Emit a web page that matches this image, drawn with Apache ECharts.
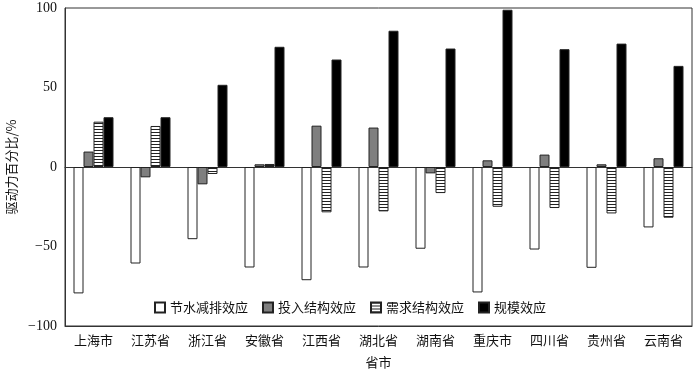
<!DOCTYPE html>
<html><head><meta charset="utf-8">
<script src="https://cdn.jsdelivr.net/npm/echarts@6/dist/echarts.min.js"></script>
<style>html,body{margin:0;padding:0;background:#fff}#c{width:700px;height:369px}</style>
</head><body><div id="c"></div>
<script>
var categories = ['上海市','江苏省','浙江省','安徽省','江西省','湖北省','湖南省','重庆市','四川省','贵州省','云南省'];
var seriesNames = ['节水减排效应','投入结构效应','需求结构效应','规模效应'];
var waterSaving = [-79.5, -60.7, -45.4, -63.2, -71.2, -63.2, -51.4, -78.9, -51.9, -63.4, -38.0];
var inputStruct = [9.7, -6.5, -10.9, 1.7, 26.0, 24.8, -4.0, 4.2, 7.8, 1.7, 5.5];
var demandStruct = [28.5, 25.8, -4.4, 1.9, -28.5, -27.9, -16.4, -25.0, -25.8, -29.2, -31.9];
var scale = [31.3, 31.3, 51.7, 75.6, 67.6, 85.7, 74.5, 98.9, 74.1, 77.6, 63.6];
var yTicks = [-100, -50, 0, 50, 100];

var pc = document.createElement('canvas');
pc.width = 4; pc.height = 3;
var ctx = pc.getContext('2d');
ctx.fillStyle = '#fff'; ctx.fillRect(0,0,4,3);
ctx.fillStyle = '#222'; ctx.fillRect(0,0,4,1);
var hatch = {image: pc, repeat: 'repeat'};

var font = '"Noto Sans CJK SC", sans-serif';
var border = {borderColor:'#222', borderWidth:1};
function mk(name, data, color){
  return {name:name, type:'bar', data:data, barWidth:10, barGap:'0%', xAxisIndex:0,
    itemStyle:Object.assign({color:color}, border)};
}
var chart = echarts.init(document.getElementById('c'));
chart.setOption({
  animation:false,
  textStyle:{fontFamily:font, color:'#111'},
  grid:{left:65, right:8, top:8, bottom:43, show:true, borderColor:'#333', borderWidth:1,
    containLabel:false, outerBoundsMode:'none'},
  legend:{top:296, left:'center', icon:'rect', itemWidth:10, itemHeight:10, itemGap:14,
    textStyle:{fontFamily:font, fontSize:13, color:'#111'},
    data:seriesNames},
  xAxis:[{type:'category', data:categories, position:'bottom',
      axisLine:{onZero:false, lineStyle:{color:'#333'}},
      axisTick:{inside:true, length:5, lineStyle:{color:'#333'}},
      axisLabel:{fontFamily:font, fontSize:13, color:'#111', margin:8},
      name:'省市', nameLocation:'middle', nameGap:30,
      nameTextStyle:{fontFamily:font, fontSize:13, color:'#111'}},
    {type:'category', data:categories, position:'bottom',
      axisLine:{onZero:true, lineStyle:{color:'#333'}},
      axisTick:{inside:true, length:5, lineStyle:{color:'#333'}},
      axisLabel:{show:false}}],
  yAxis:{type:'value', min:yTicks[0], max:yTicks[yTicks.length-1], interval:50,
    splitLine:{show:false}, axisTick:{show:false},
    axisLine:{show:true, lineStyle:{color:'#333'}},
    axisLabel:{fontFamily:'"Liberation Serif", serif', fontSize:14, color:'#111', margin:8,
      formatter:function(v){return String(v).replace('-','\u2212');}},
    name:'驱动力百分比/%', nameLocation:'middle', nameGap:40,
    nameTextStyle:{fontFamily:font, fontSize:13, color:'#111'}},
  series:[mk(seriesNames[0], waterSaving, '#fff'),
          mk(seriesNames[1], inputStruct, '#7f7f7f'),
          mk(seriesNames[2], demandStruct, hatch),
          mk(seriesNames[3], scale, '#000')]
});
</script></body></html>
